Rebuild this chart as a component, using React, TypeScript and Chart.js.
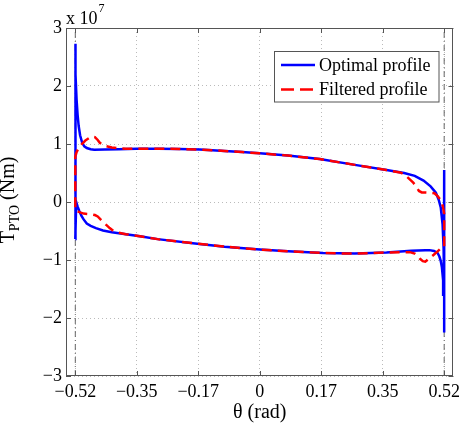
import React, { useEffect, useRef } from 'react';
import { Chart, registerables } from 'chart.js';

Chart.register(...registerables);

// Optimal profile (blue, solid) – closed loop, torque in units of 1e7 Nm
const optimalTheta = [
  -0.5236, -0.5236, -0.5225, -0.52, -0.517, -0.514, -0.51, -0.504, -0.498, -0.491, -0.48, -0.47, -0.44, -0.4, -0.35,
  -0.29, -0.23, -0.17, -0.1, -0.05, 0.0, 0.08, 0.17, 0.27, 0.36, 0.41, 0.44, 0.465, 0.485, 0.5, 0.508, 0.514, 0.519,
  0.522, 0.5236, 0.5236, 0.5236, 0.5228, 0.5206, 0.517, 0.514, 0.51, 0.505, 0.495, 0.482, 0.47, 0.43, 0.36, 0.27, 0.18,
  0.08, 0.0, -0.1, -0.19, -0.29, -0.34, -0.38, -0.42, -0.445, -0.465, -0.48, -0.491, -0.5, -0.506, -0.512, -0.517,
  -0.521, -0.5236,
];
const optimalTorque = [
  -0.64, 2.73, 2.2, 1.77, 1.5, 1.31, 1.15, 1.02, 0.96, 0.93, 0.91, 0.9, 0.905, 0.91, 0.92,
  0.92, 0.915, 0.905, 0.88, 0.86, 0.84, 0.8, 0.74, 0.64, 0.55, 0.5, 0.45, 0.37, 0.27, 0.16, 0.04, -0.1, -0.38,
  -0.8, -1.5, -2.25, 0.55, -1.6, -1.35, -1.12, -1.02, -0.94, -0.88, -0.845, -0.83, -0.83, -0.84, -0.87, -0.89, -0.88,
  -0.85, -0.82, -0.77, -0.71, -0.64, -0.59, -0.555, -0.52, -0.49, -0.45, -0.41, -0.37, -0.3, -0.24, -0.16, -0.08,
  0.0, -0.64,
];

// Filtered profile (red, dashed)
const filteredTheta = [
  -0.5236, -0.5236, -0.52, -0.514, -0.505, -0.495, -0.485, -0.477, -0.468, -0.46, -0.454, -0.445, -0.435, -0.42, -0.407,
  -0.38, -0.35, -0.29, -0.23, -0.17, -0.1, -0.05, 0.0, 0.08, 0.17, 0.27, 0.36, 0.398, 0.41, 0.417, 0.426, 0.435, 0.444,
  0.452, 0.46, 0.48, 0.496, 0.505, 0.514, 0.52, 0.5236, 0.5236, 0.519, 0.514, 0.505, 0.494, 0.482, 0.47, 0.463, 0.455,
  0.447, 0.44, 0.426, 0.4, 0.36, 0.27, 0.18, 0.08, 0.0, -0.1, -0.19, -0.29, -0.34, -0.38, -0.4, -0.415, -0.426, -0.435,
  -0.444, -0.452, -0.46, -0.468, -0.48, -0.5, -0.51, -0.518, -0.5236,
];
const filteredTorque = [
  -0.09, 0.78, 0.86, 0.93, 1.0, 1.06, 1.1, 1.13, 1.12, 1.07, 1.02, 0.98, 0.96, 0.94, 0.93,
  0.92, 0.92, 0.92, 0.915, 0.905, 0.88, 0.86, 0.84, 0.8, 0.74, 0.64, 0.55, 0.51, 0.48, 0.44, 0.39, 0.34, 0.27,
  0.19, 0.165, 0.16, 0.15, 0.1, 0.03, -0.08, -0.2, -0.78, -0.79, -0.8, -0.85, -0.91, -0.97, -1.03, -1.02, -0.98,
  -0.92, -0.89, -0.865, -0.865, -0.87, -0.89, -0.88, -0.85, -0.82, -0.77, -0.71, -0.64, -0.59, -0.555, -0.53, -0.5, -0.45, -0.4,
  -0.35, -0.3, -0.25, -0.225, -0.21, -0.2, -0.18, -0.16, -0.09,
];

const boundaryTheta = [-0.5236, 0.5236];

const xTickValues = [-0.5236, -0.3491, -0.1745, 0, 0.1745, 0.3491, 0.5236];
const xTickLabels = ['\u22120.52', '\u22120.35', '\u22120.17', '0', '0.17', '0.35', '0.52'];
const yTickValues = [-3, -2, -1, 0, 1, 2, 3];
const yTickLabels = ['\u22123', '\u22122', '\u22121', '0', '1', '2', '3'];

const seriesLabels = ['Optimal profile', 'Filtered profile'];
const xTitle = '\u03b8 (rad)';
const yTitleMain = 'T';
const yTitleSub = 'PTO';
const yTitleRest = ' (Nm)';
const exponentBase = 'x 10';
const exponentPower = '7';

const FONT = '"Liberation Serif", "DejaVu Serif", serif';
const BLUE = '#0000ff';
const RED = '#ff0000';
const AXIS = '#555555';

const toPoints = (xs: number[], ys: number[]) => xs.map((x, i) => ({ x, y: ys[i] }));

const decorPlugin = {
  id: 'decor',
  afterDraw(chart: any) {
    const { ctx, chartArea: a } = chart;
    const xs = chart.scales.x;
    const ys = chart.scales.y;
    ctx.save();
    // box
    ctx.strokeStyle = AXIS;
    ctx.lineWidth = 1;
    ctx.setLineDash([]);
    ctx.strokeRect(Math.round(a.left) + 0.5, Math.round(a.top) + 0.5, Math.round(a.right - a.left) - 1, Math.round(a.bottom - a.top) - 1);
    // inward ticks
    const tl = 5;
    ctx.beginPath();
    xTickValues.forEach((v) => {
      const px = Math.round(xs.getPixelForValue(v)) + 0.5;
      ctx.moveTo(px, a.bottom);
      ctx.lineTo(px, a.bottom - tl);
      ctx.moveTo(px, a.top);
      ctx.lineTo(px, a.top + tl);
    });
    yTickValues.forEach((v) => {
      const py = Math.round(ys.getPixelForValue(v)) + 0.5;
      ctx.moveTo(a.left, py);
      ctx.lineTo(a.left + tl, py);
      ctx.moveTo(a.right, py);
      ctx.lineTo(a.right - tl, py);
    });
    ctx.stroke();

    // legend
    const lx = 274.5, ly = 51.5, lw = 164.5, lh = 50.5;
    ctx.fillStyle = '#ffffff';
    ctx.fillRect(lx, ly, lw, lh);
    ctx.strokeStyle = AXIS;
    ctx.strokeRect(lx, ly, lw, lh);
    ctx.lineWidth = 2.5;
    ctx.strokeStyle = BLUE;
    ctx.beginPath();
    ctx.moveTo(281, 65);
    ctx.lineTo(315, 65);
    ctx.stroke();
    ctx.strokeStyle = RED;
    ctx.setLineDash([13, 6]);
    ctx.beginPath();
    ctx.moveTo(281, 89.5);
    ctx.lineTo(315, 89.5);
    ctx.stroke();
    ctx.setLineDash([]);
    ctx.fillStyle = '#000000';
    ctx.font = `18px ${FONT}`;
    ctx.textBaseline = 'middle';
    ctx.textAlign = 'left';
    ctx.fillText(seriesLabels[0], 319, 66);
    ctx.fillText(seriesLabels[1], 319, 90);

    // exponent label
    ctx.textBaseline = 'alphabetic';
    ctx.font = `18px ${FONT}`;
    ctx.fillText(exponentBase, 66, 24);
    const wb = ctx.measureText(exponentBase).width;
    ctx.font = `12px ${FONT}`;
    ctx.fillText(exponentPower, 66 + wb + 1, 12);

    // x title
    ctx.font = `20px ${FONT}`;
    ctx.textAlign = 'center';
    ctx.fillText(xTitle, (a.left + a.right) / 2, 418);

    // y title (rotated, with subscript)
    ctx.save();
    ctx.translate(14, 200);
    ctx.rotate(-Math.PI / 2);
    ctx.textAlign = 'left';
    ctx.font = `20px ${FONT}`;
    const w1 = ctx.measureText(yTitleMain).width;
    const w3 = ctx.measureText(yTitleRest).width;
    ctx.font = `14px ${FONT}`;
    const w2 = ctx.measureText(yTitleSub).width;
    let cx = -(w1 + w2 + w3) / 2;
    ctx.font = `20px ${FONT}`;
    ctx.fillText(yTitleMain, cx, 0);
    cx += w1;
    ctx.font = `14px ${FONT}`;
    ctx.fillText(yTitleSub, cx, 5);
    cx += w2;
    ctx.font = `20px ${FONT}`;
    ctx.fillText(yTitleRest, cx, 0);
    ctx.restore();

    ctx.restore();
  },
};

export default function App() {
  const canvasRef = useRef<HTMLCanvasElement | null>(null);

  useEffect(() => {
    if (!canvasRef.current) return;
    const chart = new Chart(canvasRef.current, {
      type: 'scatter',
      data: {
        datasets: [
          {
            label: seriesLabels[1],
            data: toPoints(filteredTheta, filteredTorque),
            showLine: true,
            borderColor: RED,
            borderWidth: 2.5,
            borderDash: [10, 6],
            pointRadius: 0,
            tension: 0,
            order: 0,
          },
          {
            label: seriesLabels[0],
            data: toPoints(optimalTheta, optimalTorque),
            showLine: true,
            borderColor: BLUE,
            borderWidth: 2.5,
            pointRadius: 0,
            tension: 0,
            order: 1,
          },
          {
            label: 'left bound',
            data: [{ x: boundaryTheta[0], y: -3 }, { x: boundaryTheta[0], y: 3 }],
            showLine: true,
            borderColor: '#666666',
            borderWidth: 1,
            borderDash: [6, 3, 1, 3],
            pointRadius: 0,
            order: 2,
          },
          {
            label: 'right bound',
            data: [{ x: boundaryTheta[1], y: -3 }, { x: boundaryTheta[1], y: 3 }],
            showLine: true,
            borderColor: '#666666',
            borderWidth: 1,
            borderDash: [6, 3, 1, 3],
            pointRadius: 0,
            order: 2,
          },
        ],
      },
      options: {
        animation: false,
        responsive: false,
        events: [],
        layout: { padding: { top: 28, right: 3, left: 0, bottom: 0 } },
        plugins: { legend: { display: false }, tooltip: { enabled: false } },
        scales: {
          x: {
            type: 'linear',
            min: -0.55,
            max: 0.55,
            afterBuildTicks: (scale: any) => {
              scale.ticks = xTickValues.map((v) => ({ value: v }));
            },
            afterFit: (scale: any) => {
              scale.height = 47;
            },
            ticks: {
              autoSkip: false,
              maxRotation: 0,
              padding: 5,
              color: '#000000',
              font: { family: FONT, size: 18 },
              callback: (_v: any, i: number) => xTickLabels[i],
            },
            grid: { color: '#bbbbbb', lineWidth: 1, drawTicks: false },
            border: { display: false, dash: [1, 3] },
          },
          y: {
            type: 'linear',
            min: -3,
            max: 3,
            afterBuildTicks: (scale: any) => {
              scale.ticks = yTickValues.map((v) => ({ value: v }));
            },
            afterFit: (scale: any) => {
              scale.width = 66;
            },
            ticks: {
              autoSkip: false,
              padding: 4,
              color: '#000000',
              font: { family: FONT, size: 18 },
              callback: (_v: any, i: number) => yTickLabels[i],
            },
            grid: { color: '#bbbbbb', lineWidth: 1, drawTicks: false },
            border: { display: false, dash: [1, 3] },
          },
        },
      },
      plugins: [decorPlugin],
    });
    return () => chart.destroy();
  }, []);

  return (
    <div style={{ position: 'absolute', left: 0, top: 0, width: 465, height: 423, background: '#ffffff' }}>
      <canvas ref={canvasRef} width={465} height={423} style={{ display: 'block' }} />
    </div>
  );
}
